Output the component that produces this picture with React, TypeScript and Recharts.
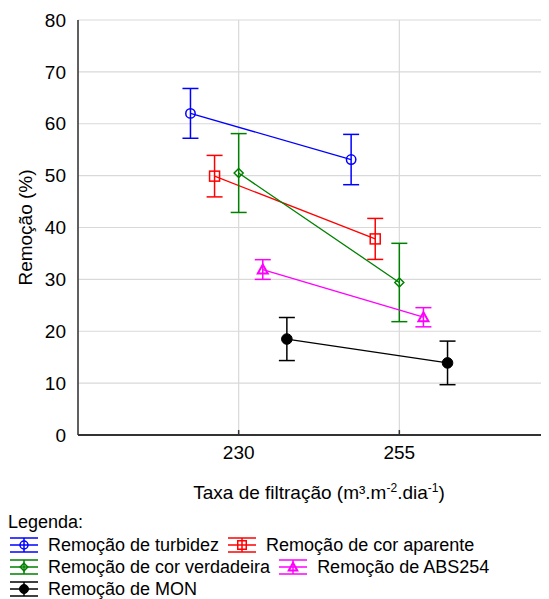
import { CartesianGrid, ErrorBar, Line, LineChart, XAxis, YAxis } from "recharts";

const FONT = "'Liberation Sans', Arial, sans-serif";

// filtration rates (m³.m⁻².dia⁻¹)
const rates = [230, 255];
const yTicks = [0, 10, 20, 30, 40, 50, 60, 70, 80];

// removal (%) and error bar half-widths
const turbidez = [62.0, 53.1];
const turbidezErr = [4.8, 4.85];
const corAparente = [49.9, 37.8];
const corAparenteErr = [4.0, 3.95];
const corVerdadeira = [50.5, 29.4];
const corVerdadeiraErr = [7.6, 7.55];
const abs254 = [31.9, 22.7];
const abs254Err = [1.9, 1.85];
const mon = [18.5, 13.9];
const monErr = [4.15, 4.2];

type Shape = "circle" | "square" | "diamond" | "triangle" | "dot";

const series: { name: string; values: number[]; err: number[]; color: string; shape: Shape }[] = [
  { name: "Remoção de turbidez", values: turbidez, err: turbidezErr, color: "#0000ff", shape: "circle" },
  { name: "Remoção de cor aparente", values: corAparente, err: corAparenteErr, color: "#ff0000", shape: "square" },
  { name: "Remoção de cor verdadeira", values: corVerdadeira, err: corVerdadeiraErr, color: "#008000", shape: "diamond" },
  { name: "Remoção de ABS254", values: abs254, err: abs254Err, color: "#ff00ff", shape: "triangle" },
  { name: "Remoção de MON", values: mon, err: monErr, color: "#000000", shape: "dot" },
];

// horizontal dodge between series, in x units
const dodge = [-7.5, -3.75, 0, 3.75, 7.5];

const seriesData = series.map((s, i) =>
  rates.map((r, j) => ({ x: r + dodge[i], y: s.values[j], err: s.err[j] }))
);

function Marker({ shape, cx, cy, color, k = 1 }: { shape: Shape; cx: number; cy: number; color: string; k?: number }) {
  const sw = 1.5;
  if (shape === "circle") return <circle cx={cx} cy={cy} r={4.7 * k} fill="none" stroke={color} strokeWidth={sw} />;
  if (shape === "square") {
    const h = 5 * k;
    return <rect x={cx - h} y={cy - h} width={2 * h} height={2 * h} fill="none" stroke={color} strokeWidth={sw} />;
  }
  if (shape === "diamond") {
    const h = 4.5 * k;
    return (
      <polygon
        points={`${cx},${cy - h} ${cx + h},${cy} ${cx},${cy + h} ${cx - h},${cy}`}
        fill="none"
        stroke={color}
        strokeWidth={sw}
      />
    );
  }
  if (shape === "triangle") {
    const h = 5 * k;
    return (
      <polygon
        points={`${cx},${cy - h} ${cx + h},${cy + h * 0.8} ${cx - h},${cy + h * 0.8}`}
        fill="none"
        stroke={color}
        strokeWidth={sw + 0.5}
      />
    );
  }
  return <circle cx={cx} cy={cy} r={5.3 * k} fill={color} stroke={color} />;
}

function BottomTick(props: any) {
  const { x, y, payload } = props;
  return (
    <g>
      <line x1={x} x2={x} y1={y} y2={y - 5} stroke="#333" strokeWidth={1.5} />
      <text x={x} y={y + 24} textAnchor="middle" fontSize={19} fontFamily={FONT} fill="#000">
        {payload.value}
      </text>
    </g>
  );
}

function TopTick(props: any) {
  const { x, y } = props;
  return <line x1={x} x2={x} y1={y} y2={y + 5} stroke="#333" strokeWidth={1.5} />;
}

function XLabel(props: any) {
  const vb = props.viewBox || { x: 70, y: 427, width: 482 };
  const cx = vb.x + vb.width / 2;
  return (
    <text x={cx} y={vb.y + 64} textAnchor="middle" fontSize={19} fontFamily={FONT} fill="#000">
      Taxa de filtração (m³.m
      <tspan dy={-7} fontSize={12}>-2</tspan>
      <tspan dy={7}>.dia</tspan>
      <tspan dy={-7} fontSize={12}>-1</tspan>
      <tspan dy={7}>)</tspan>
    </text>
  );
}

function YLabel(props: any) {
  const vb = props.viewBox || { x: 0, y: 12, height: 415 };
  const cy = vb.y + vb.height / 2;
  const cx = 17;
  return (
    <text
      x={cx}
      y={cy}
      transform={`rotate(-90 ${cx} ${cy})`}
      textAnchor="middle"
      dominantBaseline="central"
      fontSize={19}
      fontFamily={FONT}
      fill="#000"
    >
      Remoção (%)
    </text>
  );
}

function LegendIcon({ shape, color }: { shape: Shape; color: string }) {
  return (
    <svg width={30} height={16} style={{ display: "block", flex: "none" }}>
      <line x1={1} x2={29} y1={1} y2={1} stroke={color} strokeWidth={1.5} />
      <line x1={1} x2={29} y1={8} y2={8} stroke={color} strokeWidth={1.5} />
      <line x1={1} x2={29} y1={15} y2={15} stroke={color} strokeWidth={1.5} />
      <line x1={15} x2={15} y1={1} y2={15} stroke={color} strokeWidth={1.5} />
      <Marker shape={shape} cx={15} cy={8} color={color} k={0.85} />
    </svg>
  );
}

function LegendItem({ i }: { i: number }) {
  const s = series[i];
  return (
    <div style={{ display: "flex", alignItems: "center", gap: 9 }}>
      <LegendIcon shape={s.shape} color={s.color} />
      <span>{s.name}</span>
    </div>
  );
}

export default function App() {
  const rows = [[0, 1], [2, 3], [4]];
  return (
    <div style={{ position: "relative", width: 541, height: 591, overflow: "hidden", fontFamily: FONT }}>
      <LineChart width={560} height={510} margin={{ top: 12, right: 8, left: 0, bottom: 8 }}>
        <CartesianGrid stroke="#d9d9d9" strokeWidth={1.2} />
        <XAxis
          type="number"
          dataKey="x"
          domain={[205, 280]}
          ticks={rates}
          allowDataOverflow
          height={75}
          tickLine={false}
          tickSize={0}
          tickMargin={0}
          tick={BottomTick}
          axisLine={{ stroke: "#333", strokeWidth: 2 }}
          label={XLabel}
        />
        <XAxis
          xAxisId="top"
          orientation="top"
          type="number"
          dataKey="x"
          domain={[205, 280]}
          ticks={rates}
          allowDataOverflow
          height={0}
          tickLine={false}
          tickSize={0}
          tickMargin={0}
          tick={TopTick}
          axisLine={{ stroke: "#333", strokeWidth: 1.5 }}
        />
        <YAxis
          type="number"
          domain={[0, 80]}
          ticks={yTicks}
          width={70}
          tickLine={false}
          tickSize={0}
          tickMargin={12}
          tick={{ fontSize: 19, fill: "#000", fontFamily: FONT }}
          axisLine={{ stroke: "#333", strokeWidth: 1.5 }}
          label={YLabel}
        />
        {series.map((s, i) => (
          <Line
            key={s.name}
            data={seriesData[i]}
            dataKey="y"
            name={s.name}
            stroke={s.color}
            strokeWidth={1.3}
            isAnimationActive={false}
            dot={(p: any) => <Marker key={`${s.name}-${p.index}`} shape={s.shape} cx={p.cx} cy={p.cy} color={s.color} />}
            activeDot={false}
          >
            <ErrorBar dataKey="err" direction="y" width={8} stroke={s.color} strokeWidth={1.5} isAnimationActive={false} />
          </Line>
        ))}
      </LineChart>
      <div style={{ position: "absolute", left: 0, top: 503, fontSize: 18, lineHeight: "22px", color: "#000" }}>
        Legenda:
      </div>
      {rows.map((row, r) => (
        <div
          key={r}
          style={{
            position: "absolute",
            left: 1,
            top: 526 + r * 22,
            height: 22,
            display: "flex",
            alignItems: "center",
            gap: 8,
            fontSize: 18,
            whiteSpace: "nowrap",
            color: "#000",
          }}
        >
          {row.map((i) => (
            <LegendItem key={i} i={i} />
          ))}
        </div>
      ))}
    </div>
  );
}
